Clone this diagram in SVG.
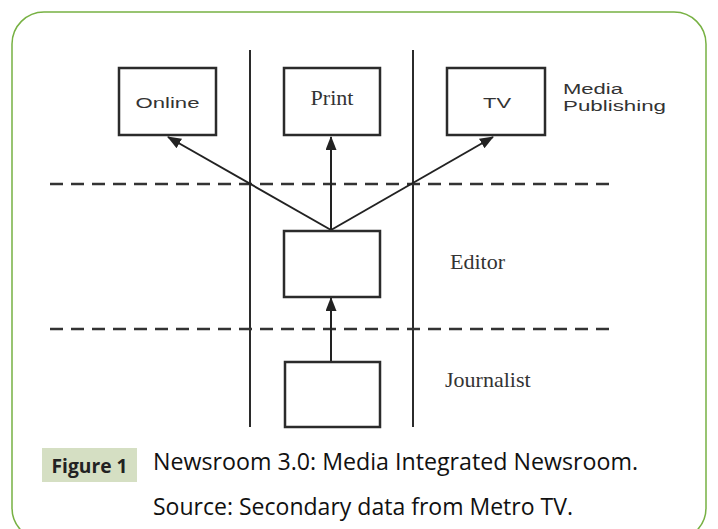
<svg xmlns="http://www.w3.org/2000/svg" width="718" height="529" viewBox="0 0 718 529">
<defs>
<style>
.box{fill:#fff;stroke:#2b2b2b;stroke-width:2.5}
.vline{stroke:#2b2b2b;stroke-width:2;fill:none}
.dash{stroke:#333;stroke-width:2.5;stroke-dasharray:13 8;fill:none}
.arrow{stroke:#222;stroke-width:2;fill:none;marker-end:url(#ah)}
.sans{font-family:"Liberation Sans",Arial,sans-serif;fill:#333}
.serif{font-family:"Liberation Serif","Times New Roman",serif;fill:#333}
.cap{font-family:"Open Sans","Noto Sans",sans-serif;fill:#111}
</style>
<marker id="ah" viewBox="0 0 14 11" refX="13" refY="5.5" markerWidth="14" markerHeight="11" markerUnits="userSpaceOnUse" orient="auto">
<path d="M0,0 L14,5.5 L0,11 z" fill="#222"/>
</marker>
</defs>
<rect x="12" y="12" width="694" height="528" rx="32" ry="32" fill="#fff" stroke="#77b143" stroke-width="1.5"/>
<g id="lanes">
<line class="vline" x1="250" y1="50" x2="250" y2="427"/>
<line class="vline" x1="413" y1="50" x2="413" y2="427"/>
<line class="dash" x1="50" y1="184" x2="616" y2="184"/>
<line class="dash" x1="50" y1="329" x2="616" y2="329"/>
</g>
<g id="connectors">
<line class="arrow" x1="331" y1="230" x2="168" y2="137"/>
<line class="arrow" x1="331" y1="230" x2="331" y2="137"/>
<line class="arrow" x1="331" y1="230" x2="493" y2="137"/>
<line class="arrow" x1="331" y1="362" x2="331" y2="298"/>
</g>
<g id="online">
<rect class="box" x="119" y="68" width="97" height="67"/>
<text class="sans" x="167.5" y="108" font-size="14" text-anchor="middle" textLength="64" lengthAdjust="spacingAndGlyphs">Online</text>
</g>
<g id="print">
<rect class="box" x="284" y="68" width="96" height="67"/>
<text class="serif" x="332" y="105" font-size="22" text-anchor="middle" textLength="43" lengthAdjust="spacingAndGlyphs">Print</text>
</g>
<g id="tv">
<rect class="box" x="447" y="68" width="98" height="67"/>
<text class="sans" x="497" y="108" font-size="14" text-anchor="middle" textLength="28" lengthAdjust="spacingAndGlyphs">TV</text>
</g>
<g id="media-publishing">
<text class="sans" x="563" y="94" font-size="14" textLength="60" lengthAdjust="spacingAndGlyphs">Media</text>
<text class="sans" x="563" y="111" font-size="14" textLength="103" lengthAdjust="spacingAndGlyphs">Publishing</text>
</g>
<g id="editor">
<rect class="box" x="284" y="231" width="96" height="66"/>
<text class="serif" x="450" y="269" font-size="22">Editor</text>
</g>
<g id="journalist">
<rect class="box" x="285" y="362" width="95" height="65"/>
<text class="serif" x="445" y="387" font-size="22">Journalist</text>
</g>
<g id="caption">
<rect x="42" y="448" width="95" height="34" fill="#d5dfc3"/>
<text x="89.5" y="473" font-family="'Open Sans','Noto Sans',sans-serif" font-weight="bold" font-size="19" fill="#222" text-anchor="middle" textLength="76" lengthAdjust="spacingAndGlyphs">Figure 1</text>
<text class="cap" x="153" y="470" font-size="23" textLength="485" lengthAdjust="spacingAndGlyphs">Newsroom 3.0: Media Integrated Newsroom.</text>
<text class="cap" x="153" y="515" font-size="23" textLength="420" lengthAdjust="spacingAndGlyphs">Source: Secondary data from Metro TV.</text>
</g>
</svg>
